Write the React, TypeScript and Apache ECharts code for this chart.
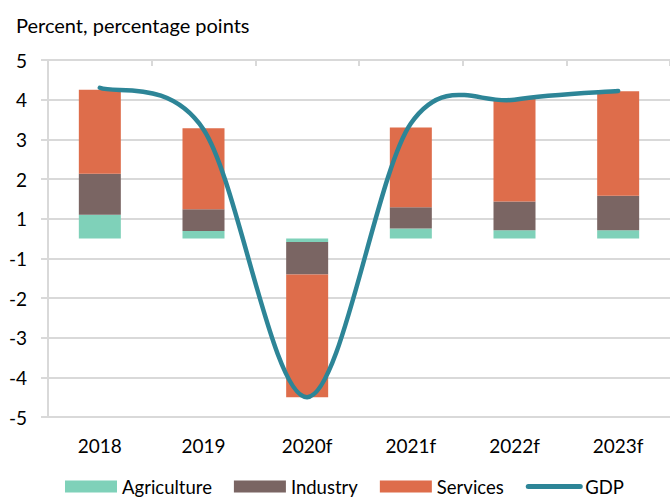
import React, { useEffect, useRef } from "react";
import * as echarts from "echarts";

const categories = ["2018", "2019", "2020f", "2021f", "2022f", "2023f"];
const agriculture = [0.6, 0.19, -0.09, 0.25, 0.21, 0.21];
const industry = [1.03, 0.55, -0.82, 0.54, 0.72, 0.87];
const services = [2.12, 2.04, -3.09, 2.01, 2.6, 2.63];
const gdp = [3.8, 2.75, -4.0, 2.9, 3.5, 3.72];

const FONT = "Lato";
const GRID_COLOR = "#d9d9d9";
const GDP_COLOR = "#2d8597";

// Excel-style smoothed line (cubic Bezier, Catmull-Rom tangents / 6)
function smoothPath(pts: number[][]): string {
  const n = pts.length;
  let d = `M${pts[0][0]},${pts[0][1]}`;
  for (let i = 0; i < n - 1; i++) {
    const p0 = pts[Math.max(i - 1, 0)];
    const p1 = pts[i];
    const p2 = pts[i + 1];
    const p3 = pts[Math.min(i + 2, n - 1)];
    const c1x = p1[0] + (p2[0] - p0[0]) / 6;
    const c1y = p1[1] + (p2[1] - p0[1]) / 6;
    const c2x = p2[0] - (p3[0] - p1[0]) / 6;
    const c2y = p2[1] - (p3[1] - p1[1]) / 6;
    d += ` C${c1x},${c1y} ${c2x},${c2y} ${p2[0]},${p2[1]}`;
  }
  return d;
}

export default function App() {
  const ref = useRef<HTMLDivElement>(null);
  useEffect(() => {
    document.body.style.margin = "0";
    const chart = echarts.init(ref.current!, null, { renderer: "svg" });
    chart.setOption({
      animation: false,
      textStyle: { fontFamily: FONT },
      title: {
        text: "Percent, percentage points",
        left: 16,
        top: 15,
        padding: 0,
        textStyle: { fontFamily: FONT, fontSize: 20, fontWeight: "normal", color: "#000" },
      },
      grid: { left: 48, top: 60, width: 625, height: 357, containLabel: false },
      legend: {
        left: 65,
        top: 477,
        padding: 0,
        itemWidth: 52,
        itemHeight: 12,
        itemGap: 22,
        textStyle: { fontFamily: FONT, fontSize: 18.5, lineHeight: 17, color: "#000" },
        data: [
          { name: "Agriculture", icon: "rect" },
          { name: "Industry", icon: "rect" },
          { name: "Services", icon: "rect" },
          {
            name: "GDP",
            itemStyle: { opacity: 0 },
            lineStyle: { width: 5, cap: "round", color: GDP_COLOR },
          },
        ],
      },
      xAxis: [
        {
          type: "category",
          data: categories,
          position: "bottom",
          axisLine: { show: false },
          axisTick: { show: false },
          axisLabel: { fontFamily: FONT, fontSize: 19, color: "#000", margin: 19 },
        },
        {
          type: "category",
          data: categories,
          position: "top",
          axisLine: { show: true, onZero: true, lineStyle: { color: GRID_COLOR, width: 2 } },
          axisTick: { show: true, inside: true, length: 6, lineStyle: { color: GRID_COLOR, width: 2 } },
          axisLabel: { show: false },
        },
      ],
      yAxis: {
        type: "value",
        min: -4.5,
        max: 4.5,
        interval: 1,
        axisLine: { show: true, lineStyle: { color: GRID_COLOR, width: 2 } },
        axisTick: { show: true, length: 7, lineStyle: { color: GRID_COLOR, width: 2 } },
        splitLine: { show: true, lineStyle: { color: GRID_COLOR, width: 2 } },
        axisLabel: {
          fontFamily: FONT,
          fontSize: 19,
          color: "#000",
          margin: 21,
          formatter: (v: number) => String(v >= 0 ? Math.round(v) : -Math.round(-v)),
        },
      },
      series: [
        {
          name: "Agriculture",
          type: "bar",
          stack: "total",
          barWidth: 42,
          data: agriculture,
          itemStyle: { color: "#7fd1b9" },
        },
        {
          name: "Industry",
          type: "bar",
          stack: "total",
          barWidth: 42,
          data: industry,
          itemStyle: { color: "#7a6563" },
        },
        {
          name: "Services",
          type: "bar",
          stack: "total",
          barWidth: 42,
          data: services,
          itemStyle: { color: "#de6d4b" },
        },
        {
          // legend entry for GDP (line drawn by the custom series below)
          name: "GDP",
          type: "line",
          data: [],
          symbol: "none",
          lineStyle: { color: GDP_COLOR, width: 5, cap: "round" },
          itemStyle: { color: GDP_COLOR },
        },
        {
          name: "GDP line",
          type: "custom",
          data: gdp.map((v, i) => [i, v]),
          encode: { x: 0, y: 1 },
          z: 5,
          renderItem: (params: any, api: any) => {
            if (params.dataIndex !== 0) return null;
            const pts = gdp.map((v, i) => api.coord([i, v]));
            return {
              type: "path",
              shape: { pathData: smoothPath(pts) },
              style: {
                fill: "none",
                stroke: GDP_COLOR,
                lineWidth: 4.5,
                lineCap: "round",
                lineJoin: "round",
              },
            };
          },
        },
      ],
    });
    return () => chart.dispose();
  }, []);
  return <div ref={ref} style={{ width: 670, height: 498 }} />;
}
